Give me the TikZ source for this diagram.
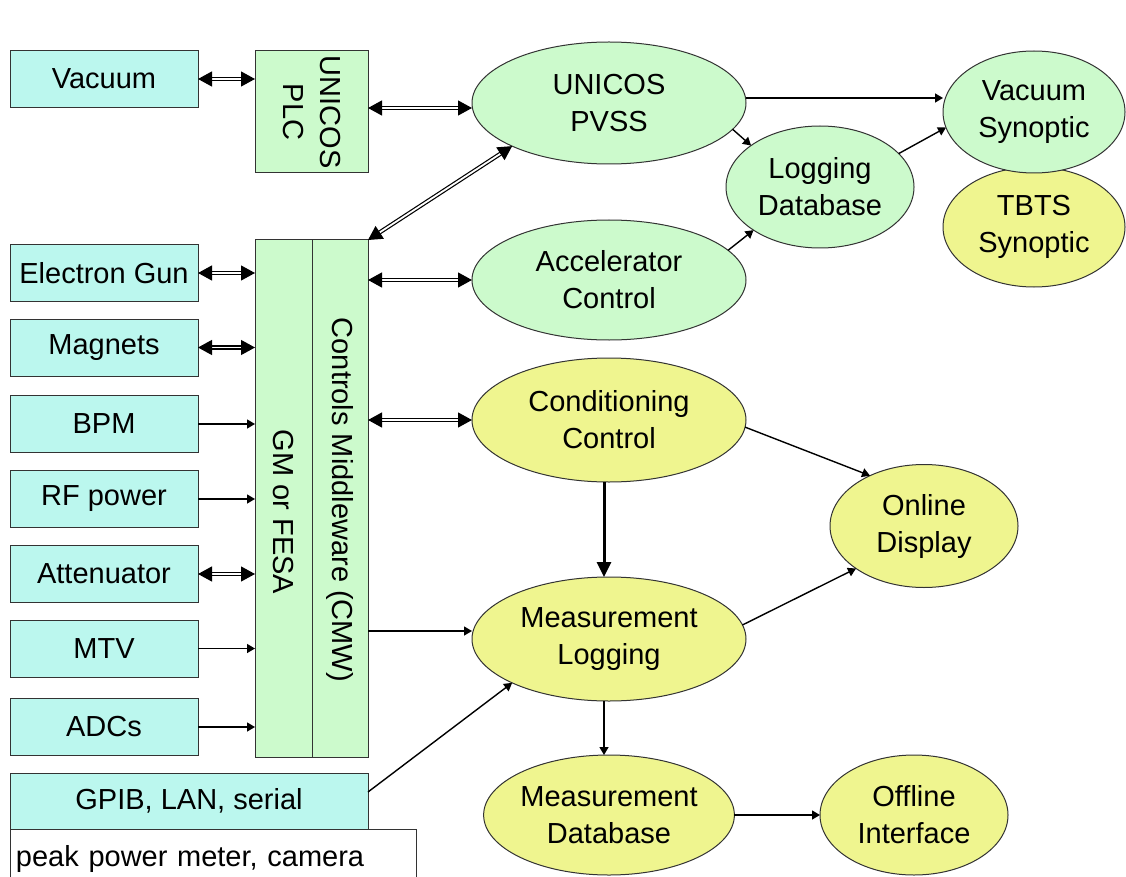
\documentclass[tikz,border=0pt]{standalone}
\usepackage{fontspec}
\setmainfont{Liberation Sans}
\usetikzlibrary{arrows.meta,shapes.geometric,calc}
\definecolor{boxcyan}{HTML}{BBF7EE}
\definecolor{boxgreen}{HTML}{CCFACC}
\definecolor{ellyellow}{HTML}{EFF58F}
\begin{document}
\begin{tikzpicture}[x=1pt,y=-1pt,
  font=\fontsize{29}{37}\selectfont,
  every node/.style={inner sep=0pt, outer sep=0pt},
  devbox/.style={draw=black!80, line width=1pt, fill=boxcyan, minimum width=188pt, minimum height=57pt},
  gbox/.style={draw=black!80, line width=1pt, fill=boxgreen},
  gell/.style={ellipse, draw=black!80, line width=1pt, fill=boxgreen, align=center},
  yell/.style={ellipse, draw=black!80, line width=1pt, fill=ellyellow, align=center},
  dbl/.style={draw=black, line width=1.2pt, double=white, double distance=1.8pt,
    {Triangle[length=14pt,width=15pt]}-{Triangle[length=14pt,width=15pt]}},
  sarr/.style={draw=black, line width=1.4pt, -{Triangle[length=8pt,width=9pt]}},
  tarr/.style={draw=black, line width=3pt, -{Triangle[length=15pt,width=14pt]}}
]
\useasboundingbox (0,0) rectangle (1126,877);
\clip (0,0) rectangle (1126,877);
\fill[white] (0,0) rectangle (1126,877);

% left device boxes
\node[devbox] (vac) at (104,79) {Vacuum};
\node[devbox] (eg) at (104,273) {Electron Gun};
\node[devbox] (mag) at (104,347.5) {Magnets};
\node[devbox] (bpm) at (104,424) {BPM};
\node[devbox] (rf) at (104,499) {RF power};
\node[devbox] (att) at (104,574) {Attenuator};
\node[devbox] (mtv) at (104,648.5) {MTV};
\node[devbox] (adc) at (104,727) {ADCs};
\node[devbox, minimum width=358pt, minimum height=56pt] (gpib) at (189,801) {GPIB, LAN, serial};
\node[draw=black!80, line width=1pt, fill=white, minimum width=406pt, minimum height=60pt,
  anchor=north west, text width=394pt, align=left, inner xsep=6pt] (peak) at (10,829) {peak power meter, camera};

% PLC and middleware boxes
\node[gbox, minimum width=113pt, minimum height=122pt] (plc) at (311.5,112) {};
\node[rotate=-90, align=center] (plctext) at (plc.center) {UNICOS\\PLC};
\node[gbox, minimum width=57pt, minimum height=517pt] (gm) at (283.5,498.5) {};
\node[gbox, minimum width=56pt, minimum height=517pt] (cmw) at (340,498.5) {};
\node[rotate=-90] (gmtext) at (283.5,512) {GM or FESA};
\node[rotate=-90] (cmwtext) at (340,500) {Controls Middleware (CMW)};

% ellipses
\node[gell, minimum width=274pt, minimum height=122pt] (pvss) at (609,103) {UNICOS\\PVSS};
\node[gell, minimum width=274pt, minimum height=120pt] (acc) at (609,280) {Accelerator\\Control};
\node[gell, minimum width=188pt, minimum height=122pt] (ldb) at (820,187) {Logging\\Database};
\node[yell, minimum width=182pt, minimum height=120pt] (tbts) at (1034,227) {TBTS\\Synoptic};
\node[gell, minimum width=182pt, minimum height=122pt] (vs) at (1034,112) {Vacuum\\Synoptic};
\node[yell, minimum width=274pt, minimum height=124pt] (cond) at (609,420) {Conditioning\\Control};
\node[yell, minimum width=274pt, minimum height=124pt] (meas) at (609,639) {Measurement\\Logging};
\node[yell, minimum width=188pt, minimum height=123pt] (od) at (924,526) {Online\\Display};
\node[yell, minimum width=238pt, minimum height=120pt] (mdb) at (609,815) {Measurement\\Database};
\node[yell, minimum width=188pt, minimum height=120pt] (off) at (914,815) {Offline\\Interface};

% double arrows
\path[dbl] (vac.east) -- (vac.east -| plc.west);
\path[dbl] ([yshift=4pt]plc.east) -- ([yshift=4pt]plc.east -| pvss.west);
\path[dbl] (cmw.north east) -- (pvss.south west);
\path[dbl] (eg.east) -- (eg.east -| gm.west);
\path[dbl] (mag.east) -- (mag.east -| gm.west);
\path[dbl] (att.east) -- (att.east -| gm.west);
\path[dbl] (acc.west -| cmw.east) -- (acc.west);
\path[dbl] (cond.west -| cmw.east) -- (cond.west);

% single arrows
\draw[sarr] (bpm.east) -- (bpm.east -| gm.west);
\draw[sarr] (rf.east) -- (rf.east -| gm.west);
\draw[sarr] (mtv.east) -- (mtv.east -| gm.west);
\draw[sarr] (adc.east) -- (adc.east -| gm.west);
\draw[sarr] ([yshift=8pt]meas.west -| cmw.east) -- ([yshift=8pt]meas.west);
\draw[sarr] ([yshift=9pt]gpib.east) -- (meas.south west);
\draw[sarr] ([yshift=5pt]pvss.east) -- ([yshift=5pt]pvss.east -| vs.west);
\draw[sarr] (pvss.-12) -- (ldb.149);
\draw[sarr] (acc.14) -- (ldb.213);
\draw[sarr] (ldb.23) -- (vs.190);
\draw[sarr] (cond.-3) -- (od.137);
\draw[sarr] (meas.6) -- (od.212);
\draw[tarr] ([xshift=-5pt]cond.south) -- ([xshift=-5pt]meas.north);
\draw[sarr] ([xshift=-5pt]meas.south) -- ([xshift=-5pt]mdb.north);
\draw[sarr] (mdb.east) -- (off.west);
\end{tikzpicture}
\end{document}
